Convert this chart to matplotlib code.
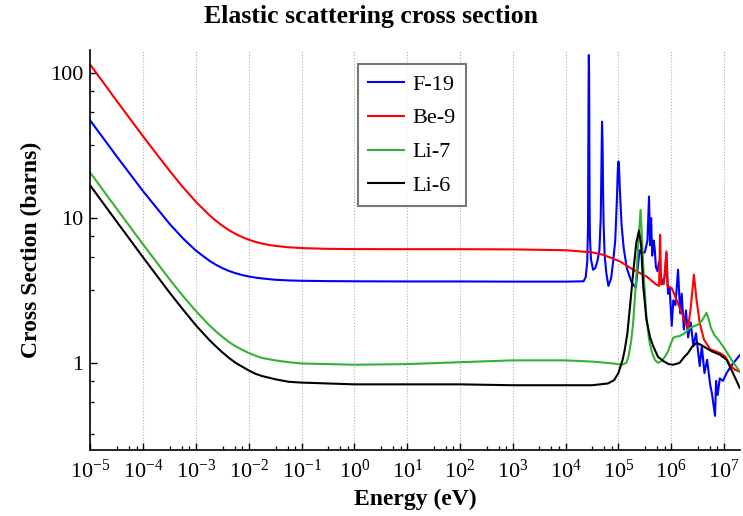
import matplotlib
matplotlib.use("Agg")
import matplotlib.pyplot as plt
import numpy as np
from matplotlib.ticker import FixedLocator, NullFormatter

plt.rcParams.update({
    "font.family": "Liberation Serif",
    "font.size": 16,
    "mathtext.fontset": "custom",
    "mathtext.rm": "Liberation Serif",
    "mathtext.it": "Liberation Serif:italic",
    "mathtext.bf": "Liberation Serif:bold",
    "axes.linewidth": 1.2,
    "xtick.direction": "in",
    "ytick.direction": "in",
})

# =========================
# data: log10(E / eV) and cross section (barns)
# =========================
low_logE = [-5, -4.5, -4, -3.5, -3.25, -3, -2.75, -2.625, -2.5, -2.375, -2.25, -2.125, -2,
            -1.875, -1.75, -1.625, -1.5, -1.25, -1, -0.5, 0, 1, 2, 3, 4]

f19_logE = low_logE + [4.34, 4.38, 4.41, 4.425, 4.43, 4.435, 4.44, 4.445, 4.45, 4.455, 4.46, 4.48,
                       4.52, 4.56, 4.60, 4.64, 4.665, 4.68, 4.69, 4.70, 4.71, 4.72, 4.74, 4.77,
                       4.81, 4.86, 4.90, 4.94, 4.97, 4.99, 5.00, 5.01, 5.03, 5.06, 5.10, 5.16,
                       5.25, 5.33, 5.36, 5.40, 5.44, 5.50, 5.55, 5.58, 5.60, 5.62, 5.64, 5.67,
                       5.69, 5.71, 5.74, 5.77, 5.80, 5.84, 5.88, 5.91, 5.94, 5.97, 6.01, 6.04,
                       6.08, 6.13, 6.17, 6.20, 6.24, 6.28, 6.32, 6.37, 6.42, 6.47, 6.54, 6.58,
                       6.63, 6.68, 6.74, 6.77, 6.83, 6.85, 6.88, 6.92, 6.98, 7.05, 7.11, 7.20, 7.30]
f19_xs = [47.0, 26.6, 15.28, 9.11, 7.25, 5.95, 5.08, 4.76, 4.51, 4.31, 4.16, 4.04, 3.95,
          3.88, 3.83, 3.79, 3.75, 3.71, 3.69, 3.67, 3.66, 3.65, 3.65, 3.64, 3.64,
          3.66, 3.9, 5.0, 9, 30, 81, 134, 100, 30, 12, 7.5, 5.2,
          4.4, 4.5, 5.0, 6.0, 10, 25, 46.4, 33, 15, 9, 5.5, 4.2,
          3.4, 3.8, 5.0, 7, 13, 22, 24.6, 23, 15, 9, 6.2, 4.5,
          3.6, 3.3, 4.3, 6.0, 5.7, 5.8, 7, 14.1, 6.5, 10, 5.5, 7,
          6.0, 4.6, 4.3, 5, 4.0, 3.5, 4.0, 5.7, 3.0, 3.3, 1.8, 2.7,
          2.5, 4.4, 2.2, 3.0, 1.7, 2.3, 1.5, 1.9, 1.3, 1.6, 0.95, 1.3,
          0.85, 1.05, 0.70, 0.62, 0.43, 0.75, 0.60, 0.78, 0.75, 0.85, 0.92, 1.02, 1.13]

be9_logE = low_logE + [4.5, 4.71, 5.03, 5.28, 5.53, 5.72, 5.77, 5.79, 5.81, 5.86, 5.91, 5.93, 6.01,
                       6.10, 6.20, 6.27, 6.32, 6.37, 6.43, 6.48, 6.54, 6.62, 6.74, 6.92, 7.02,
                       7.11, 7.20, 7.29]
be9_xs = [114.2, 64.4, 36.56, 21.18, 16.38, 12.93, 10.50, 9.59, 8.85, 8.25, 7.77, 7.39, 7.09,
          6.85, 6.67, 6.53, 6.43, 6.29, 6.21, 6.13, 6.11, 6.10, 6.10, 6.08, 6.0,
          5.8, 5.58, 5.02, 4.4, 3.96, 3.47, 3.4, 7.67, 3.5, 3.5, 5.88, 3.4, 3.29,
          2.73, 2.21, 1.89, 1.74, 2.4, 4.06, 2.73, 1.89, 1.45, 1.24, 1.17, 1.11,
          0.97, 0.90, 0.87]

li7_logE = low_logE + [4.5, 4.9, 5.06, 5.15, 5.19, 5.24, 5.28, 5.33, 5.38, 5.42, 5.45, 5.47, 5.53,
                       5.58, 5.63, 5.69, 5.75, 5.82, 5.88, 5.94, 6.00, 6.04, 6.10, 6.16, 6.25,
                       6.35, 6.51, 6.58, 6.63, 6.67, 6.71, 6.75, 6.82, 6.89, 7.02, 7.14, 7.27, 7.30]
li7_xs = [20.5, 11.56, 6.55, 3.77, 2.90, 2.27, 1.82, 1.65, 1.51, 1.39, 1.30, 1.23, 1.17,
          1.12, 1.08, 1.06, 1.04, 1.01, 0.99, 0.98, 0.97, 0.98, 1.01, 1.04, 1.04,
          1.02, 0.99, 0.97, 1.0, 1.1, 1.4, 1.9, 3.5, 7.0, 11.4, 7.0, 4.6, 2.1,
          1.45, 1.2, 1.05, 1.0, 1.03, 1.1, 1.2, 1.38, 1.49, 1.52, 1.53, 1.6,
          1.74, 1.84, 1.95, 2.1, 2.22, 2.0, 1.75, 1.55, 1.45, 1.24, 1.05, 0.90, 0.88]

li6_logE = low_logE + [4.5, 4.8, 4.92, 5.0, 5.08, 5.12, 5.17, 5.22, 5.28, 5.34, 5.39, 5.43, 5.47,
                       5.53, 5.60, 5.66, 5.75, 5.85, 5.95, 6.04, 6.16, 6.25, 6.32, 6.40, 6.48,
                       6.55, 6.61, 6.77, 6.92, 7.05, 7.17, 7.30]
li6_xs = [16.7, 9.42, 5.33, 3.05, 2.34, 1.81, 1.44, 1.30, 1.18, 1.08, 1.00, 0.94, 0.885,
          0.84, 0.81, 0.79, 0.77, 0.74, 0.73, 0.72, 0.71, 0.71, 0.71, 0.70, 0.70,
          0.70, 0.72, 0.76, 0.85, 1.05, 1.23, 1.6, 2.46, 4.2, 6.8, 8.2, 6.5, 3.4,
          2.0, 1.5, 1.3, 1.1, 1.03, 0.98, 0.97, 1.0, 1.1, 1.17, 1.30, 1.37,
          1.34, 1.30, 1.2, 1.14, 1.05, 0.85, 0.67]

series = [
    ("F-19", f19_logE, f19_xs, "#0000ff"),
    ("Be-9", be9_logE, be9_xs, "#ff0000"),
    ("Li-7", li7_logE, li7_xs, "#33b233"),
    ("Li-6", li6_logE, li6_xs, "#000000"),
]

x_exps = list(range(-5, 8))
x_ticklabels = [r"$\mathrm{10^{%d}}$" % e for e in x_exps]
y_ticks = [1, 10, 100]
y_ticklabels = ["1", "10", "100"]
minor_mults = [3.2, 5.4, 7.5]

# =========================
# figure
# =========================
fig = plt.figure(figsize=(7.43, 5.16), dpi=100)
ax = fig.add_axes([0.1218, 0.128, 0.874, 0.775])

for name, lx, ys, col in series:
    ax.plot(10.0 ** np.array(lx), ys, color=col, linewidth=1.5, label=name)

ax.set_xscale("log")
ax.set_yscale("log")
ax.set_xlim(1e-5, 2e7)
ax.set_ylim(0.25, 145)

ax.xaxis.set_major_locator(FixedLocator([10.0 ** e for e in x_exps]))
ax.set_xticklabels(x_ticklabels)
ax.xaxis.set_minor_locator(FixedLocator([m * 10.0 ** e for e in range(-5, 8) for m in minor_mults]))
ax.xaxis.set_minor_formatter(NullFormatter())

ax.yaxis.set_major_locator(FixedLocator(y_ticks))
ax.set_yticklabels(y_ticklabels)
ax.yaxis.set_minor_locator(FixedLocator([m * 10.0 ** e for e in range(-1, 3) for m in minor_mults]))
ax.yaxis.set_minor_formatter(NullFormatter())

ax.tick_params(which="major", length=5, width=1.0, labelsize=16)
ax.tick_params(which="minor", length=3, width=0.9)
ax.tick_params(axis="x", pad=7)
ax.tick_params(axis="y", pad=5)

ax.spines["top"].set_visible(False)
ax.spines["right"].set_visible(False)
ax.grid(True, axis="x", which="major", linestyle=":", linewidth=0.8, color="#b0b0b0")
ax.set_axisbelow(True)

ax.set_xlabel("Energy (eV)", fontsize=17, fontweight="bold", labelpad=4)
ax.set_ylabel("Cross Section (barns)", fontsize=17, fontweight="bold", labelpad=6)
fig.suptitle("Elastic scattering cross section", fontsize=18.5, fontweight="bold", y=0.99)

leg = ax.legend(loc="upper left", bbox_to_anchor=(0.412, 0.965), borderaxespad=0, fontsize=16,
                frameon=True, fancybox=False, edgecolor="#555555", handlelength=1.6,
                handletextpad=0.4, labelspacing=0.6, borderpad=0.45)
leg.get_frame().set_linewidth(1.5)

fig.savefig("out.png", dpi=100)
